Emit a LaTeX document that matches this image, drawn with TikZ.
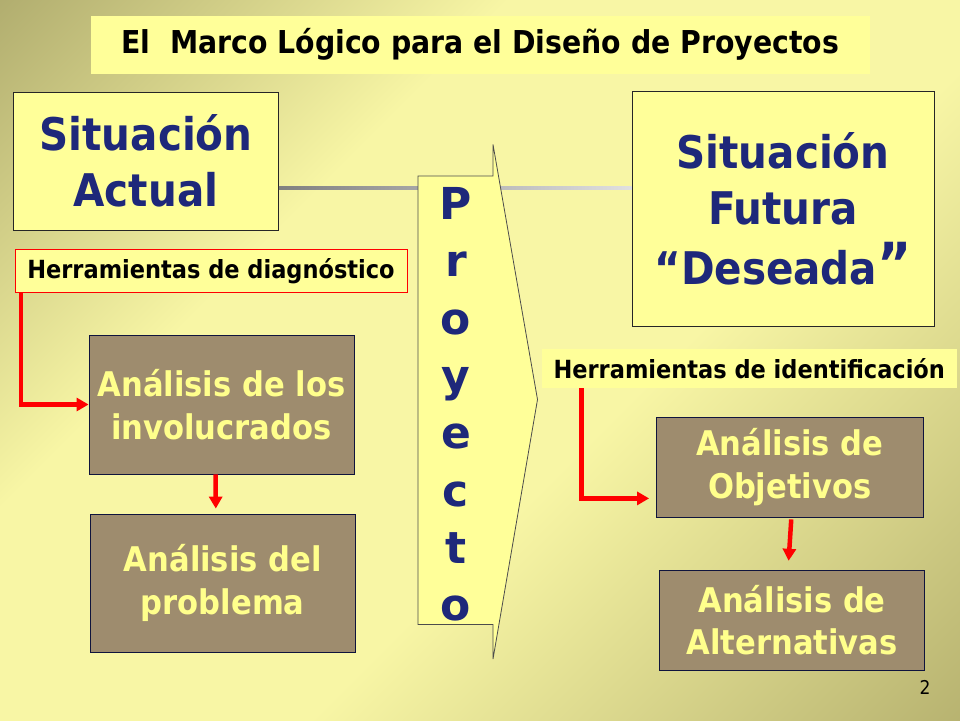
\documentclass[tikz,border=0pt]{standalone}
\usepackage{fontspec}
\setmainfont{DejaVu Sans Condensed}[BoldFont={DejaVu Sans Condensed Bold}]
\newfontfamily\widefont{DejaVu Sans}[BoldFont={DejaVu Sans Bold}]
\usetikzlibrary{arrows.meta,calc}
\definecolor{boxy}{RGB}{255,255,153}
\definecolor{navy}{RGB}{30,40,122}
\definecolor{brn}{RGB}{158,140,110}
\definecolor{ytxt}{RGB}{255,255,140}
\definecolor{bgA}{RGB}{130,125,75}
\definecolor{bgM}{RGB}{248,246,165}
\definecolor{bgB}{RGB}{150,144,85}
\definecolor{redc}{RGB}{255,0,0}
\pgfdeclarehorizontalshading{bgsh}{100bp}{color(0bp)=(bgA); color(36bp)=(bgM); color(58bp)=(bgM); color(100bp)=(bgB)}
\begin{document}
\begin{tikzpicture}[x=1pt,y=-1pt,
  ybox/.style={fill=boxy, draw=black!85, line width=0.8pt, inner sep=0pt, align=center, text=navy,
    font=\bfseries\fontsize{45}{56}\selectfont},
  bbox/.style={fill=brn, draw=navy!50!black, line width=0.8pt, inner sep=0pt, align=center, text=ytxt,
    font=\bfseries\fontsize{34}{42.5}\selectfont},
  tool/.style={fill=boxy, inner sep=0pt, align=center, font=\bfseries\fontsize{25}{30}\selectfont},
  redarr/.style={draw=redc, line width=4.5pt, -{Triangle[length=12pt,width=13pt]}},
  letter/.style={text=navy, anchor=base, font=\widefont\bfseries\fontsize{44}{44}\selectfont},
  arrowshape/.style={fill=boxy, draw=black!70, line width=0.8pt}]
\useasboundingbox (0,0) rectangle (960,720);
\shade[shading=bgsh, shading angle=-45] (0,0) rectangle (960,720);

% title
\node[fill=boxy, minimum width=779pt, minimum height=57.5pt, inner sep=0pt,
  font=\bfseries\fontsize{31.5}{36}\selectfont] (title) at (480.25,44.75)
  {\raisebox{-2pt}{El\ \ Marco Lógico para el Diseño de Proyectos}};

% situation boxes
\node[ybox, minimum width=265pt, minimum height=138.5pt] (actual) at (146,161.25)
  {Situación\\Actual};
\node[ybox, minimum width=302pt, minimum height=235.5pt] (futura) at (783,208.75)
  {Situación\\Futura\\[4pt]“Deseada{\fontsize{58}{58}\selectfont”}};

% grey connector line
\shade[left color=black!50, right color=black!12]
  ($(actual.east)+(0,25.5)$) rectangle ($(futura.west |- actual.east)+(0,28.5)$);

% project arrow
\draw[arrowshape] (418,176) -- (493,176) -- (493,144.5) -- (537.5,399.5)
  -- (493,659) -- (493,624.5) -- (418,624.5) -- cycle;
\foreach \l [count=\i from 0] in {P,r,o,y,e,c,t,o}
  \node[letter] (L\i) at (456,{219.5+57.3*\i}) {\l};

% tool labels
\node[tool, draw=redc, line width=0.8pt, minimum width=392pt, minimum height=43.5pt] (diag)
  at (211,270.75) {Herramientas de diagnóstico};
\node[tool, minimum width=414.5pt, minimum height=39pt] (ident)
  at (749.25,368.5) {Herramientas de identificación};

% analysis boxes
\node[bbox, minimum width=265pt, minimum height=139pt] (inv) at (221.5,404.5)
  {Análisis de los\\involucrados};
\node[bbox, minimum width=264.4pt, minimum height=138pt] (prob) at (222.8,583)
  {Análisis del\\problema};
\node[bbox, minimum width=266.5pt, minimum height=100.5pt] (obj) at (789.75,467.25)
  {Análisis de\\Objetivos};
\node[bbox, minimum width=265.2pt, minimum height=99.3pt] (alt) at (792.1,620.35)
  {Análisis de\\Alternativas};

% red connectors
\draw[redarr] ($(diag.south west)+(6.5,0)$) |- (inv.west);
\draw[redarr] ($(inv.south)+(-6,0)$) -- ($(prob.north)+(-7,-5)$);
\draw[redarr] ($(ident.south west)+(39.7,0)$) |- ($(obj.south west)+(-7,-19.5)$);
\draw[redarr] ($(obj.south)+(1.5,1.5)$) -- ($(alt.north)+(-3.5,-9.5)$);

% page number
\node[font=\fontsize{19}{19}\selectfont, anchor=base] (pg) at (925,694) {2};
\end{tikzpicture}
\end{document}
